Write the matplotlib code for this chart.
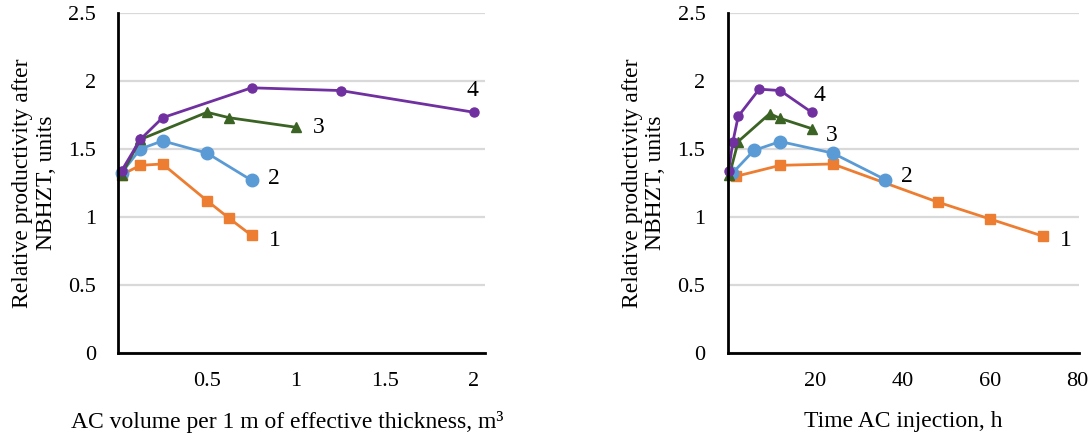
import matplotlib.pyplot as plt

plt.rcParams['font.family'] = ['Liberation Serif', 'DejaVu Serif']

# ---- data: left chart (AC volume per 1 m, m3) ----
vol_1 = [0.02, 0.125, 0.25, 0.5, 0.625, 0.75]
prod_1 = [1.31, 1.38, 1.39, 1.12, 0.99, 0.865]
vol_2 = [0.02, 0.125, 0.25, 0.5, 0.75]
prod_2 = [1.325, 1.50, 1.56, 1.47, 1.27]
vol_3 = [0.02, 0.125, 0.5, 0.625, 1.0]
prod_3 = [1.31, 1.57, 1.77, 1.73, 1.66]
vol_4 = [0.02, 0.125, 0.25, 0.75, 1.25, 2.0]
prod_4 = [1.34, 1.57, 1.73, 1.95, 1.93, 1.77]

# ---- data: right chart (time of AC injection, h) ----
time_1 = [2, 12, 24, 48, 60, 72]
time_2 = [1, 6, 12, 24, 36]
time_3 = [0.4, 2.4, 9.6, 12, 19.2]
time_4 = [0.2, 1.2, 2.4, 7.2, 12, 19.2]
rprod_1 = [1.30, 1.38, 1.39, 1.11, 0.985, 0.86]
rprod_2 = [1.32, 1.49, 1.555, 1.47, 1.275]
rprod_3 = [1.31, 1.555, 1.76, 1.725, 1.65]
rprod_4 = [1.34, 1.555, 1.74, 1.94, 1.93, 1.77]

left_ticks = [0.5, 1, 1.5, 2]
right_ticks = [20, 40, 60, 80]
y_ticks = [0, 0.5, 1, 1.5, 2, 2.5]

# series styles: colour, marker, marker size
styles = [
    ("#ED7D31", "s", 7),
    ("#5B9BD5", "o", 9),
    ("#3B6324", "^", 7.5),
    ("#7030A0", "o", 6.5),
]

fig = plt.figure(figsize=(10.91, 4.41), dpi=100)
ax1 = fig.add_axes([0.1082, 0.1995, 0.3364, 0.771])
ax2 = fig.add_axes([0.667, 0.1995, 0.322, 0.771])


def setup(ax, xticks, xlim, xlabel, label_x):
    ax.set_ylim(0, 2.5)
    ax.set_xlim(*xlim)
    ax.set_yticks(y_ticks)
    ax.set_yticklabels(["0", "0.5", "1", "1.5", "2", "2.5"])
    ax.set_xticks(xticks)
    ax.set_xticklabels([f"{t:g}" for t in xticks])
    ax.tick_params(length=0, labelsize=16, pad=14)
    ax.tick_params(axis="y", pad=16)
    for s in ["top", "right"]:
        ax.spines[s].set_visible(False)
    for s in ["left", "bottom"]:
        ax.spines[s].set_linewidth(2)
        ax.spines[s].set_color("black")
    ax.grid(axis="y", color="#D9D9D9", linewidth=1.6)
    ax.set_axisbelow(True)
    ax.set_ylabel("Relative productivity after\nNBHZT, units", fontsize=17, labelpad=8,
                  linespacing=1.15)
    ax.set_xlabel(xlabel, fontsize=17)
    ax.xaxis.set_label_coords(label_x, -0.17)


left_series = [(vol_1, prod_1), (vol_2, prod_2), (vol_3, prod_3), (vol_4, prod_4)]
right_series = [(time_1, rprod_1), (time_2, rprod_2), (time_3, rprod_3), (time_4, rprod_4)]

for ax, series in [(ax1, left_series), (ax2, right_series)]:
    for (x, y), (c, m, ms) in zip(series, styles):
        ax.plot(x, y, color=c, marker=m, markersize=ms, linewidth=2, clip_on=False)

setup(ax1, left_ticks, (0, 2.062), "AC volume per 1 m of effective thickness, m³", 0.46)
setup(ax2, right_ticks, (0, 80.3), "Time AC injection, h", 0.5)

# curve numbers
for ax, pos in [
    (ax1, [(0.88, 0.83), (0.876, 1.28), (1.13, 1.66), (1.99, 1.93)]),
    (ax2, [(77.3, 0.83), (40.9, 1.30), (23.8, 1.60), (20.9, 1.89)]),
]:
    for i, (x, y) in enumerate(pos):
        ax.text(x, y, str(i + 1), fontsize=17, ha="center", va="center")

plt.savefig("out.png", dpi=100)
